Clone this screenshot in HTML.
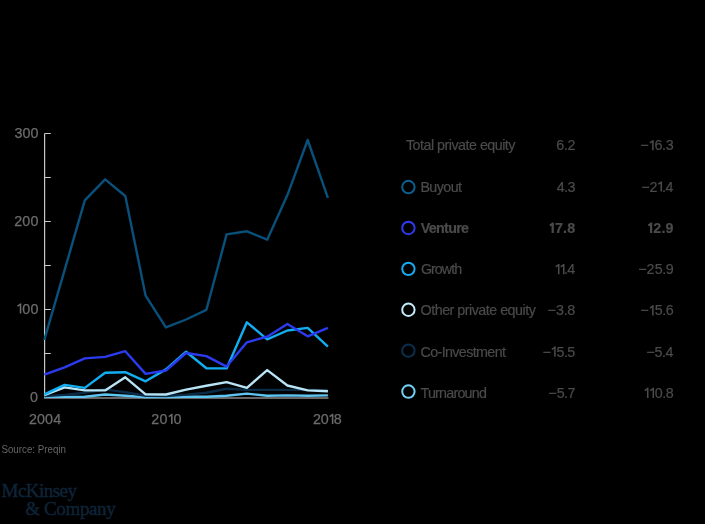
<!DOCTYPE html>
<html><head><meta charset="utf-8"><style>
html,body{margin:0;padding:0;background:#000;width:705px;height:524px;overflow:hidden}
svg{display:block;will-change:transform}
text{font-family:"Liberation Sans",sans-serif}
</style></head><body>
<svg width="705" height="524" viewBox="0 0 705 524">
<rect width="705" height="524" fill="#000"/>
<g stroke="#c8c8c8" stroke-width="1.2" fill="none">
<path d="M44.6 133.5 V398 H328.5"/>
<path d="M44.6 133.5 H50.8 M44.6 177.5 H50.8 M44.6 221.5 H50.8 M44.6 265.5 H50.8 M44.6 309.5 H50.8 M44.6 353.5 H50.8"/>
</g>
<polyline points="44.3,396.9 64.6,396.9 84.8,396.7 105.1,394.5 125.3,395.8 145.6,397.1 165.9,397.1 186.1,396.7 206.4,396.7 226.6,395.8 246.9,393.6 267.2,395.8 287.4,395.4 307.7,395.8 327.9,395.4" fill="none" stroke="#5ec4f0" stroke-width="2.4" stroke-linejoin="round"/>
<polyline points="44.3,396.1 64.6,394.9 84.8,392.7 105.1,389.4 125.3,392.3 145.6,395.8 165.9,396.0 186.1,394.6 206.4,392.7 226.6,388.7 246.9,389.9 267.2,389.9 287.4,389.9 307.7,389.9 327.9,390.1" fill="none" stroke="#0a2a45" stroke-width="2.4" stroke-linejoin="round"/>
<polyline points="44.3,395.1 64.6,387.4 84.8,390.4 105.1,390.4 125.3,377.3 145.6,394.4 165.9,394.5 186.1,389.6 206.4,385.8 226.6,382.1 246.9,387.9 267.2,370.1 287.4,385.5 307.7,390.4 327.9,391.2" fill="none" stroke="#b8e4f6" stroke-width="2.4" stroke-linejoin="round"/>
<polyline points="44.3,394.3 64.6,384.9 84.8,387.9 105.1,372.8 125.3,372.2 145.6,381.3 165.9,369.4 186.1,351.7 206.4,368.2 226.6,368.4 246.9,322.3 267.2,339.3 287.4,330.5 307.7,327.9 327.9,346.7" fill="none" stroke="#12aef2" stroke-width="2.4" stroke-linejoin="round"/>
<polyline points="44.3,374.6 64.6,367.3 84.8,358.4 105.1,356.9 125.3,351.2 145.6,373.9 165.9,370.5 186.1,353.0 206.4,356.1 226.6,366.6 246.9,342.3 267.2,336.7 287.4,323.9 307.7,336.3 327.9,327.8" fill="none" stroke="#2b3cf0" stroke-width="2.4" stroke-linejoin="round"/>
<polyline points="44.3,339.8 64.6,270.1 84.8,200.4 105.1,179.3 125.3,196.0 145.6,295.7 165.9,327.4 186.1,319.5 206.4,309.8 226.6,234.4 246.9,231.3 267.2,239.7 287.4,195.1 307.7,140.0 327.9,197.8" fill="none" stroke="#09507a" stroke-width="2.4" stroke-linejoin="round"/>

<g fill="#6b6b6b" stroke="#6b6b6b" stroke-width="0.25" font-size="14.3">
<text x="14.46" y="137.80" >3</text><text x="22.50" y="137.80" >0</text><text x="30.61" y="137.80" >0</text>
<text x="14.29" y="225.60" >2</text><text x="22.37" y="225.60" >0</text><text x="30.61" y="225.60" >0</text>
<path d="M20.53 313.60 V303.50 M21.10 303.80 L17.50 306.20" stroke="#6b6b6b" stroke-width="1.55" fill="none"/><text x="22.26" y="313.60" >0</text><text x="30.61" y="313.60" >0</text>
<text x="30.04" y="401.80" >0</text>
<text x="29.09" y="424.00" >2</text><text x="36.96" y="424.00" >0</text><text x="45.00" y="424.00" >0</text><text x="53.26" y="424.00" >4</text>
<text x="151.19" y="424.00" >2</text><text x="159.43" y="424.00" >0</text><path d="M171.82 424.00 V413.90 M172.40 414.20 L168.80 416.60" stroke="#6b6b6b" stroke-width="1.55" fill="none"/><text x="173.61" y="424.00" >0</text>
<text x="313.09" y="424.00" >2</text><text x="320.77" y="424.00" >0</text><path d="M332.60 424.00 V413.90 M333.17 414.20 L329.57 416.60" stroke="#6b6b6b" stroke-width="1.55" fill="none"/><text x="333.76" y="424.00" >8</text>

</g>
<g fill="#4a4a4a" stroke="#4a4a4a" stroke-width="0.2" font-size="14.3">
<text x="405.90" y="150.35" textLength="109.60" lengthAdjust="spacing" >Total private equity</text>
<text x="556.27" y="150.35" >6</text><text x="563.90" y="150.35" >.</text><text x="567.46" y="150.35" >2</text>
<text x="640.30" y="150.35" >−</text><path d="M652.90 150.35 V140.25 M653.48 140.55 L649.88 142.95" stroke="#4a4a4a" stroke-width="1.55" fill="none"/><text x="654.47" y="150.35" >6</text><text x="662.02" y="150.35" >.</text><text x="665.68" y="150.35" >3</text>
<circle cx="408.4" cy="187.05" r="6.2" fill="none" stroke="#0c6090" stroke-width="2.0"/>
<text x="420.40" y="191.62" textLength="41.60" lengthAdjust="spacing" >Buyout</text>
<text x="556.67" y="191.62" >4</text><text x="564.08" y="191.62" >.</text><text x="567.38" y="191.62" >3</text>
<text x="641.30" y="191.62" >−</text><text x="649.42" y="191.62" >2</text><path d="M661.27 191.62 V181.52 M661.85 181.82 L658.25 184.22" stroke="#4a4a4a" stroke-width="1.55" fill="none"/><text x="661.93" y="191.62" >.</text><text x="665.46" y="191.62" >4</text>
<circle cx="408.4" cy="227.95" r="6.2" fill="none" stroke="#2b3cf0" stroke-width="2.0"/>
<text x="420.80" y="232.89" textLength="48.20" lengthAdjust="spacing"  font-weight="bold">Venture</text>
<path d="M552.70 232.89 V222.79 M553.60 223.09 L550.00 225.49" stroke="#4a4a4a" stroke-width="2.20" fill="none"/><text x="554.89" y="232.89"  font-weight="bold">7</text><text x="562.95" y="232.89"  font-weight="bold">.</text><text x="567.19" y="232.89"  font-weight="bold">8</text>
<path d="M651.10 232.89 V222.79 M652.00 223.09 L648.40 225.49" stroke="#4a4a4a" stroke-width="2.20" fill="none"/><text x="653.36" y="232.89"  font-weight="bold">2</text><text x="661.43" y="232.89"  font-weight="bold">.</text><text x="665.58" y="232.89"  font-weight="bold">9</text>
<circle cx="408.4" cy="268.85" r="6.2" fill="none" stroke="#16aaf2" stroke-width="2.0"/>
<text x="420.90" y="274.16" textLength="41.20" lengthAdjust="spacing" >Growth</text>
<path d="M558.73 274.16 V264.06 M559.30 264.36 L555.70 266.76" stroke="#4a4a4a" stroke-width="1.55" fill="none"/><path d="M563.73 274.16 V264.06 M564.31 264.36 L560.71 266.76" stroke="#4a4a4a" stroke-width="1.55" fill="none"/><text x="564.01" y="274.16" >.</text><text x="567.16" y="274.16" >4</text>
<text x="638.20" y="274.16" >−</text><text x="646.60" y="274.16" >2</text><text x="654.73" y="274.16" >5</text><text x="662.25" y="274.16" >.</text><text x="665.72" y="274.16" >9</text>
<circle cx="408.4" cy="309.75" r="6.2" fill="none" stroke="#c3ecfb" stroke-width="2.0"/>
<text x="420.60" y="315.43" textLength="115.20" lengthAdjust="spacing" >Other private equity</text>
<text x="547.40" y="315.43" >−</text><text x="556.10" y="315.43" >3</text><text x="563.71" y="315.43" >.</text><text x="567.36" y="315.43" >8</text>
<text x="640.30" y="315.43" >−</text><path d="M652.90 315.43 V305.33 M653.48 305.63 L649.88 308.03" stroke="#4a4a4a" stroke-width="1.55" fill="none"/><text x="654.63" y="315.43" >5</text><text x="662.21" y="315.43" >.</text><text x="665.68" y="315.43" >6</text>
<circle cx="408.4" cy="350.65" r="6.2" fill="none" stroke="#0a2e4c" stroke-width="2.0"/>
<text x="420.50" y="356.70" textLength="85.50" lengthAdjust="spacing" >Co-Investment</text>
<text x="542.50" y="356.70" >−</text><path d="M554.93 356.70 V346.60 M555.51 346.90 L551.91 349.30" stroke="#4a4a4a" stroke-width="1.55" fill="none"/><text x="556.49" y="356.70" >5</text><text x="563.89" y="356.70" >.</text><text x="567.35" y="356.70" >5</text>
<text x="646.30" y="356.70" >−</text><text x="654.61" y="356.70" >5</text><text x="661.89" y="356.70" >.</text><text x="665.46" y="356.70" >4</text>
<circle cx="408.4" cy="391.55" r="6.2" fill="none" stroke="#74d0f4" stroke-width="2.0"/>
<text x="420.50" y="397.97" textLength="66.40" lengthAdjust="spacing" >Turnaround</text>
<text x="548.20" y="397.97" >−</text><text x="556.68" y="397.97" >5</text><text x="564.12" y="397.97" >.</text><text x="567.46" y="397.97" >7</text>
<path d="M647.73 397.97 V387.87 M648.30 388.17 L644.70 390.57" stroke="#4a4a4a" stroke-width="1.55" fill="none"/><path d="M653.27 397.97 V387.87 M653.84 388.17 L650.24 390.57" stroke="#4a4a4a" stroke-width="1.55" fill="none"/><text x="654.83" y="397.97" >0</text><text x="662.26" y="397.97" >.</text><text x="665.66" y="397.97" >8</text>

</g>
<text x="1.4" y="452.8" font-size="10.6" textLength="64.6" lengthAdjust="spacingAndGlyphs" fill="#666">Source: Preqin</text>
<g fill="#0e2438" stroke="#0e2438" stroke-width="0.5" font-size="19" style="font-family:'Liberation Serif',serif">
<text x="1.6" y="496.9" letter-spacing="-0.55" style="font-family:'Liberation Serif',serif">McKinsey</text>
<text x="25.3" y="515.2" letter-spacing="-0.38" style="font-family:'Liberation Serif',serif">&amp; Company</text>
</g>
</svg>
</body></html>
